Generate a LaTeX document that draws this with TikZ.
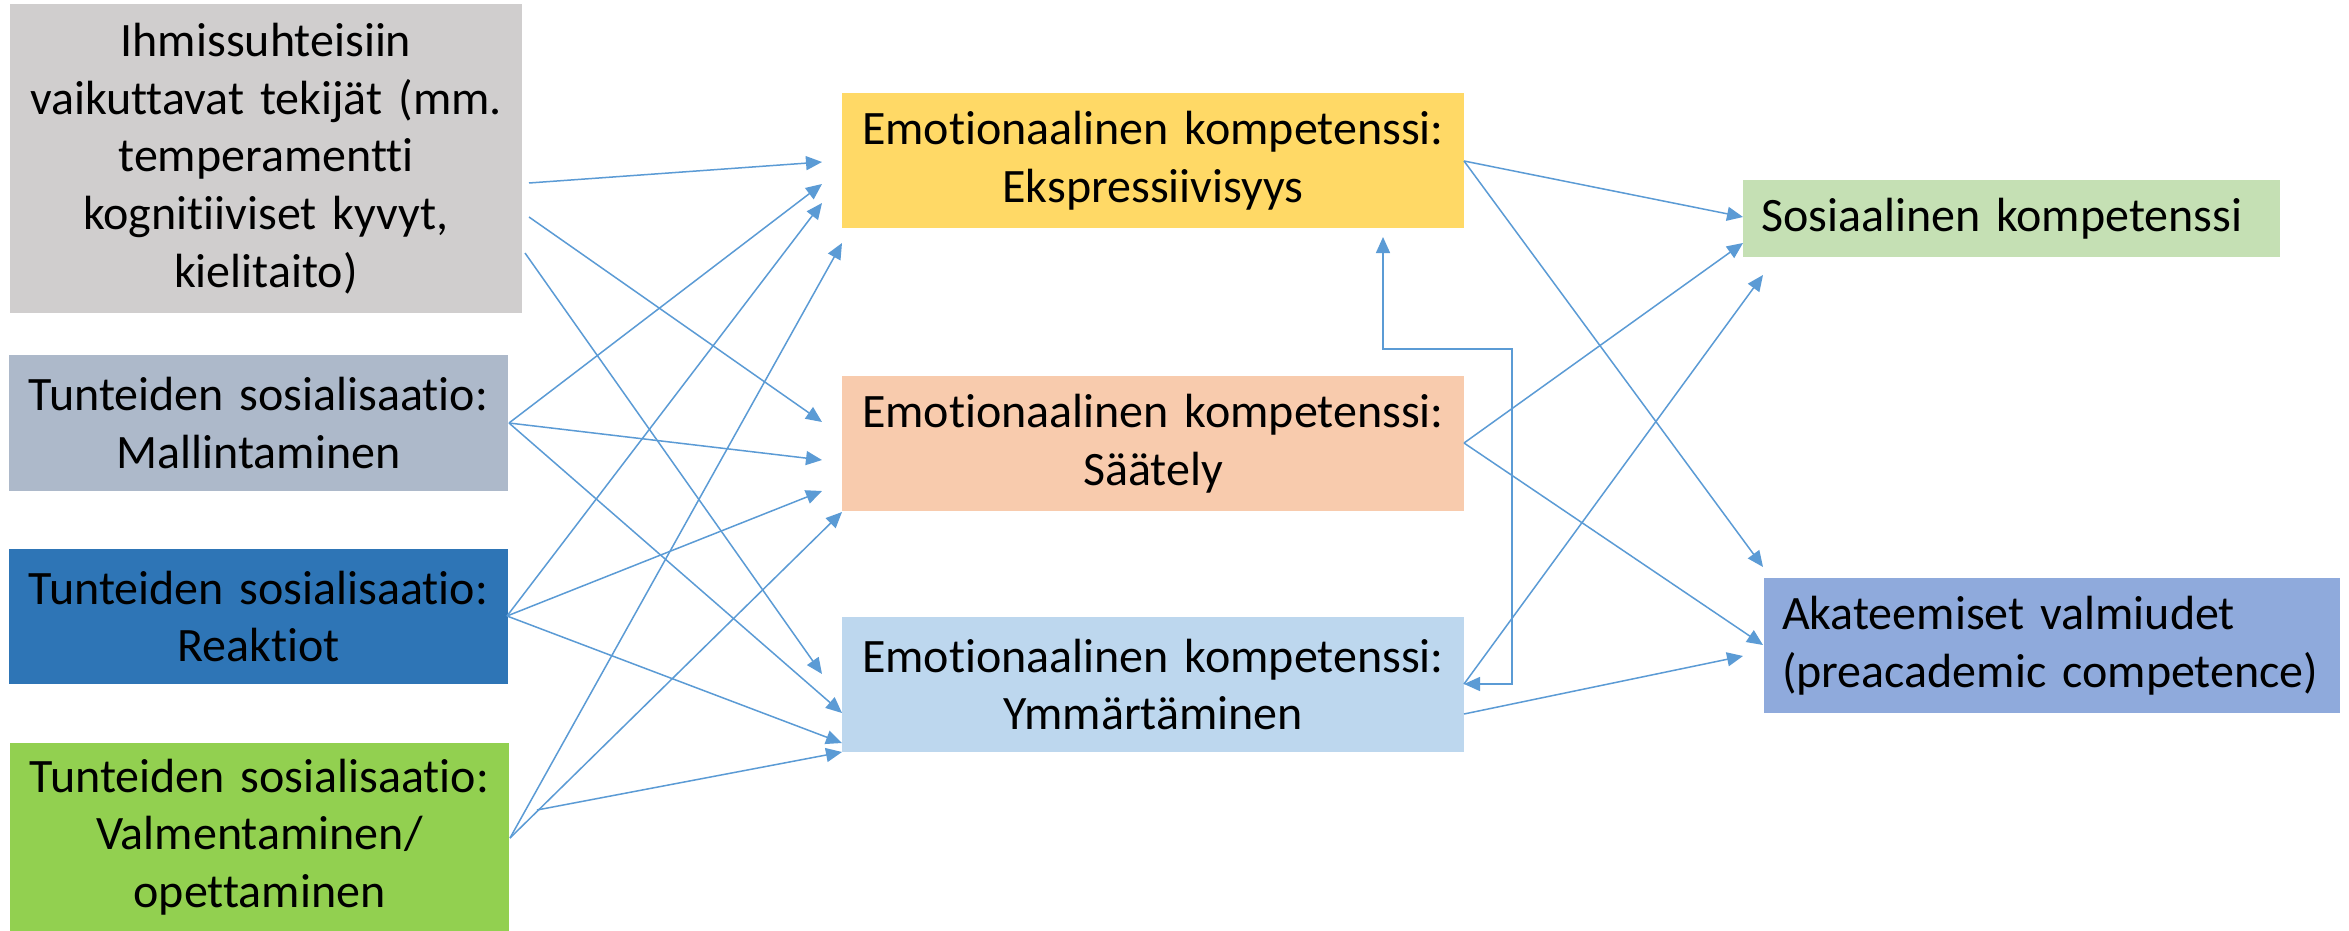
\documentclass[tikz,border=0pt]{standalone}
\usepackage{fontspec}
\setmainfont{Carlito}[Ligatures={NoCommon}]
\usetikzlibrary{arrows.meta}
\definecolor{cgray}{HTML}{D0CECE}
\definecolor{cslate}{HTML}{ADB9CA}
\definecolor{cdblue}{HTML}{2E75B6}
\definecolor{cgreen}{HTML}{92D050}
\definecolor{cyellow}{HTML}{FFD966}
\definecolor{cpeach}{HTML}{F8CBAD}
\definecolor{clblue}{HTML}{BDD7EE}
\definecolor{csos}{HTML}{C5E0B4}
\definecolor{cak}{HTML}{8FAADC}
\definecolor{carrow}{HTML}{5B9BD5}
\tikzset{
  box/.style={rectangle, inner ysep=0pt, inner xsep=5pt, align=center,
    font=\fontsize{24}{28.8}\selectfont},
  lbox/.style={rectangle, inner ysep=0pt, inner xsep=9pt, align=left,
    font=\fontsize{24}{28.8}\selectfont},
  conn/.style={draw=carrow, line width=0.75pt, -{Triangle[length=8pt,width=7pt]}},
  conn2/.style={draw=carrow, line width=0.75pt, {Triangle[length=8pt,width=7pt]}-{Triangle[length=8pt,width=7pt]}}
}
\begin{document}
\begin{tikzpicture}[x=0.5pt,y=-0.5pt]
\useasboundingbox (0,0) rectangle (2349,931);
\fill[white] (0,0) rectangle (2349,931);
% left column
\node[box, fill=cgray, minimum width=256pt, minimum height=154.5pt, text width=246pt] (gray) at (266,158.5)
  {Ihmissuhteisiin\\vaikuttavat tekijät (mm.\\temperamentti\\kognitiiviset kyvyt,\\kielitaito)};
\node[box, fill=cslate, minimum width=249.5pt, minimum height=68pt, text width=239.5pt] (slate) at (258.5,423)
  {Tunteiden sosialisaatio:\\Mallintaminen};
\node[box, fill=cdblue, minimum width=249.5pt, minimum height=67.5pt, text width=239.5pt] (dblue) at (258.5,616.5)
  {Tunteiden sosialisaatio:\\Reaktiot};
\node[box, fill=cgreen, minimum width=249.5pt, minimum height=94pt, text width=239.5pt] (green) at (259.5,837)
  {Tunteiden sosialisaatio:\\Valmentaminen/\\opettaminen};
% middle column
\node[box, fill=cyellow, minimum width=311pt, minimum height=67.5pt, text width=301pt] (expr) at (1153,160.5)
  {Emotionaalinen kompetenssi:\\Ekspressiivisyys};
\node[box, fill=cpeach, minimum width=311pt, minimum height=67.5pt, text width=301pt] (saat) at (1153,443.5)
  {Emotionaalinen kompetenssi:\\Säätely};
\node[box, fill=clblue, minimum width=311pt, minimum height=67.5pt, text width=301pt] (ymm) at (1153,684.5)
  {Emotionaalinen kompetenssi:\\Ymmärtäminen};
% right column
\node[lbox, fill=csos, minimum width=268.5pt, minimum height=38.5pt, text width=250.5pt] (sos) at (2011.5,218.5)
  {Sosiaalinen kompetenssi};
\node[lbox, fill=cak, minimum width=288pt, minimum height=67.5pt, text width=270pt] (ak) at (2052,645.5)
  {Akateemiset valmiudet\\(preacademic competence)};
% connector end points
\coordinate (gs1) at (529,183);
\coordinate (gs2) at (529,217);
\coordinate (gs3) at (525,253);
\coordinate (ss) at (509,423);
\coordinate (ds) at (507,616);
\coordinate (grA) at (510,838);
\coordinate (grB) at (537,810);
\coordinate (e1) at (822,162);
\coordinate (e2) at (822,184);
\coordinate (e3) at (822,203);
\coordinate (e4) at (842,243);
\coordinate (p1) at (822,422);
\coordinate (p2) at (822,460);
\coordinate (p3) at (822,491);
\coordinate (p4) at (842,512);
\coordinate (y1) at (822,674);
\coordinate (y2) at (842,713);
\coordinate (y3) at (842,743);
\coordinate (y4) at (842,752);
\coordinate (es) at (1464,161);
\coordinate (ps) at (1464,443);
\coordinate (ys1) at (1464,684);
\coordinate (ys2) at (1464,714);
\coordinate (so1) at (1743,217);
\coordinate (so2) at (1743,243);
\coordinate (so3) at (1763,275);
\coordinate (ak1) at (1763,567);
\coordinate (ak2) at (1763,645);
\coordinate (ak3) at (1743,656);
\coordinate (fbtop) at (1383,237);
\coordinate (fb1) at (1383,349);
\coordinate (fb2) at (1512,349);
\coordinate (fb3) at (1512,684);
% left to middle
\draw[conn] (gs1) -- (e1);
\draw[conn] (gs2) -- (p1);
\draw[conn] (gs3) -- (y1);
\draw[conn] (ss) -- (e2);
\draw[conn] (ss) -- (p2);
\draw[conn] (ss) -- (y2);
\draw[conn] (ds) -- (e3);
\draw[conn] (ds) -- (p3);
\draw[conn] (ds) -- (y3);
\draw[conn] (grA) -- (e4);
\draw[conn] (grA) -- (p4);
\draw[conn] (grB) -- (y4);
% middle to right
\draw[conn] (es) -- (so1);
\draw[conn] (es) -- (ak1);
\draw[conn] (ps) -- (so2);
\draw[conn] (ps) -- (ak2);
\draw[conn] (ys1) -- (so3);
\draw[conn] (ys2) -- (ak3);
% feedback
\draw[conn2] (fbtop) -- (fb1) -- (fb2) -- (fb3) -- (ys1);
\end{tikzpicture}
\end{document}
